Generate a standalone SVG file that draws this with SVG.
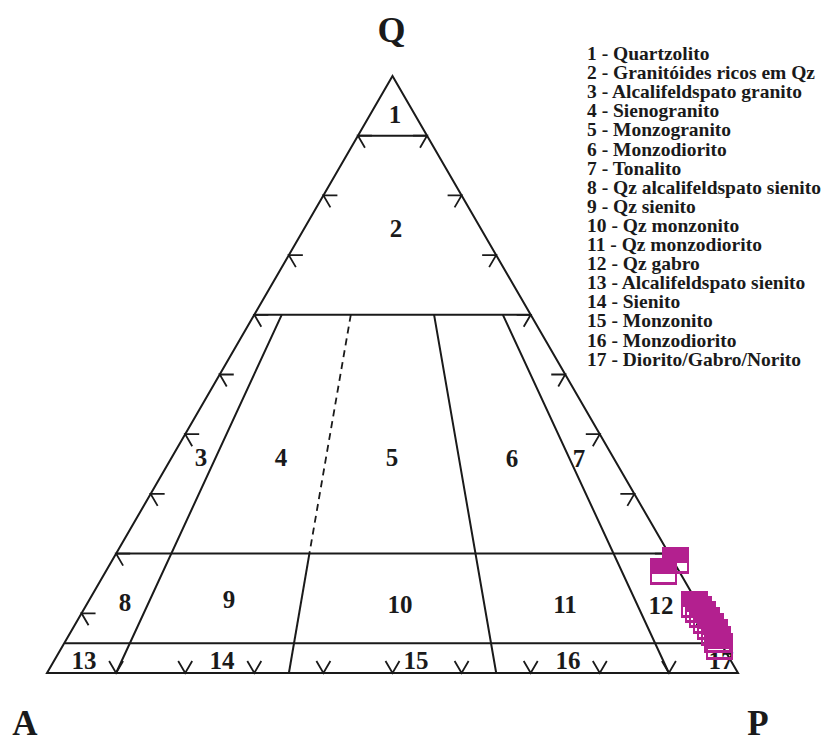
<svg xmlns="http://www.w3.org/2000/svg" xmlns:xlink="http://www.w3.org/1999/xlink" width="824" height="744" viewBox="0 0 824 744">
<style>
.ln{fill:none;stroke:#1a1a1a;stroke-width:2;stroke-linejoin:miter}
.dash{fill:none;stroke:#1a1a1a;stroke-width:1.8;stroke-dasharray:7 5}
.tk{fill:none;stroke:#1a1a1a;stroke-width:1.8}
.lab{font-family:"Liberation Serif","Times New Roman",serif;font-weight:bold;font-size:25px;fill:#1a1a1a;text-anchor:middle}
.leg{font-family:"Liberation Serif","Times New Roman",serif;font-weight:bold;font-size:19.5px;fill:#1a1a1a}
.ax{font-family:"Liberation Serif","Times New Roman",serif;font-weight:bold;font-size:36px;fill:#1a1a1a;text-anchor:middle}
.mk{fill:#b3208f;fill-rule:evenodd}
</style>
<defs>
<path id="tl" class="tk" d="M14,0 L0,0 L7,12"/>
<path id="tr" class="tk" d="M-14,0 L0,0 L-7,12"/>
<path id="tb" class="tk" d="M-7,-12 L0,0 L7,-12"/>
<path id="mk" class="mk" d="M0,0 H27 V27 H0 Z M2,16 V24 H25 V16 Z"/>
</defs>
<rect width="824" height="744" fill="#ffffff"/>
<g id="axes-labels">
<text class="ax" x="391.5" y="42">Q</text>
<text class="ax" x="25" y="735" style="font-size:35px">A</text>
<text class="ax" x="758" y="735" style="font-size:35px">P</text>
</g>
<g id="connectors">
<path class="ln" d="M392.5,76 L738,673 L47,673 Z"/>
<path class="ln" d="M357.95,135.7 H427.05 M254.3,314.8 H530.7 M116.1,553.6 H668.9 M64.9,643.2 H720.1"/>
<path class="ln" d="M281.7,314.8 L116.1,673 M434.1,314.8 L496.2,673 M502.9,314.8 L668.9,673"/>
<path class="dash" d="M350.8,314.8 L309.4,553.6"/>
<path class="ln" d="M309.4,553.6 L288.9,673"/>
</g>
<g id="ticks">
<use href="#tl" x="357.95" y="135.7"/>
<use href="#tl" x="323.4" y="195.4"/>
<use href="#tl" x="288.85" y="255.1"/>
<use href="#tl" x="254.3" y="314.8"/>
<use href="#tl" x="219.75" y="374.5"/>
<use href="#tl" x="185.2" y="434.2"/>
<use href="#tl" x="150.65" y="493.9"/>
<use href="#tl" x="116.1" y="553.6"/>
<use href="#tl" x="81.55" y="613.3"/>
<use href="#tr" x="427.05" y="135.7"/>
<use href="#tr" x="461.6" y="195.4"/>
<use href="#tr" x="496.15" y="255.1"/>
<use href="#tr" x="530.7" y="314.8"/>
<use href="#tr" x="565.25" y="374.5"/>
<use href="#tr" x="599.8" y="434.2"/>
<use href="#tr" x="634.35" y="493.9"/>
<use href="#tr" x="668.9" y="553.6"/>
<use href="#tr" x="703.45" y="613.3"/>
<use href="#tb" x="116.1" y="673"/>
<use href="#tb" x="185.2" y="673"/>
<use href="#tb" x="254.3" y="673"/>
<use href="#tb" x="323.4" y="673"/>
<use href="#tb" x="392.5" y="673"/>
<use href="#tb" x="461.6" y="673"/>
<use href="#tb" x="530.7" y="673"/>
<use href="#tb" x="599.8" y="673"/>
<use href="#tb" x="668.9" y="673"/>
</g>
<g id="fields">
<g id="f1"><text class="lab" x="395" y="123">1</text></g>
<g id="f2"><text class="lab" x="396" y="237">2</text></g>
<g id="f3"><text class="lab" x="201" y="466">3</text></g>
<g id="f4"><text class="lab" x="281" y="466">4</text></g>
<g id="f5"><text class="lab" x="392" y="466">5</text></g>
<g id="f6"><text class="lab" x="512" y="467">6</text></g>
<g id="f7"><text class="lab" x="579" y="467">7</text></g>
<g id="f8"><text class="lab" x="125" y="611">8</text></g>
<g id="f9"><text class="lab" x="229" y="608">9</text></g>
<g id="f10"><text class="lab" x="400" y="613">10</text></g>
<g id="f11"><text class="lab" x="565" y="613">11</text></g>
<g id="f12"><text class="lab" x="661" y="614">12</text></g>
<g id="f13"><text class="lab" x="84" y="669">13</text></g>
<g id="f14"><text class="lab" x="222" y="669">14</text></g>
<g id="f15"><text class="lab" x="416" y="669">15</text></g>
<g id="f16"><text class="lab" x="568" y="669">16</text></g>
<g id="f17"><text class="lab" x="721" y="669">17</text></g>
</g>
<g id="legend">
<text class="leg" x="587" y="60">1 - Quartzolito</text>
<text class="leg" x="587" y="79.1">2 - Granitóides ricos em Qz</text>
<text class="leg" x="587" y="98.2">3 - Alcalifeldspato granito</text>
<text class="leg" x="587" y="117.3">4 - Sienogranito</text>
<text class="leg" x="587" y="136.4">5 - Monzogranito</text>
<text class="leg" x="587" y="155.5">6 - Monzodiorito</text>
<text class="leg" x="587" y="174.6">7 - Tonalito</text>
<text class="leg" x="587" y="193.7">8 - Qz alcalifeldspato sienito</text>
<text class="leg" x="587" y="212.8">9 - Qz sienito</text>
<text class="leg" x="587" y="231.9">10 - Qz monzonito</text>
<text class="leg" x="587" y="251">11 - Qz monzodiorito</text>
<text class="leg" x="587" y="270.1">12 - Qz gabro</text>
<text class="leg" x="587" y="289.2">13 - Alcalifeldspato sienito</text>
<text class="leg" x="587" y="308.3">14 - Sienito</text>
<text class="leg" x="587" y="327.4">15 - Monzonito</text>
<text class="leg" x="587" y="346.5">16 - Monzodiorito</text>
<text class="leg" x="587" y="365.6">17 - Diorito/Gabro/Norito</text>
</g>
<g id="samples">
<use href="#mk" x="662" y="547"/>
<use href="#mk" x="650" y="558"/>
<use href="#mk" x="681" y="591"/>
<use href="#mk" x="685" y="596"/>
<use href="#mk" x="689" y="601"/>
<use href="#mk" x="693" y="607"/>
<use href="#mk" x="697" y="613"/>
<use href="#mk" x="701" y="619"/>
<use href="#mk" x="704" y="626"/>
<use href="#mk" x="706" y="633"/>
</g>
</svg>
